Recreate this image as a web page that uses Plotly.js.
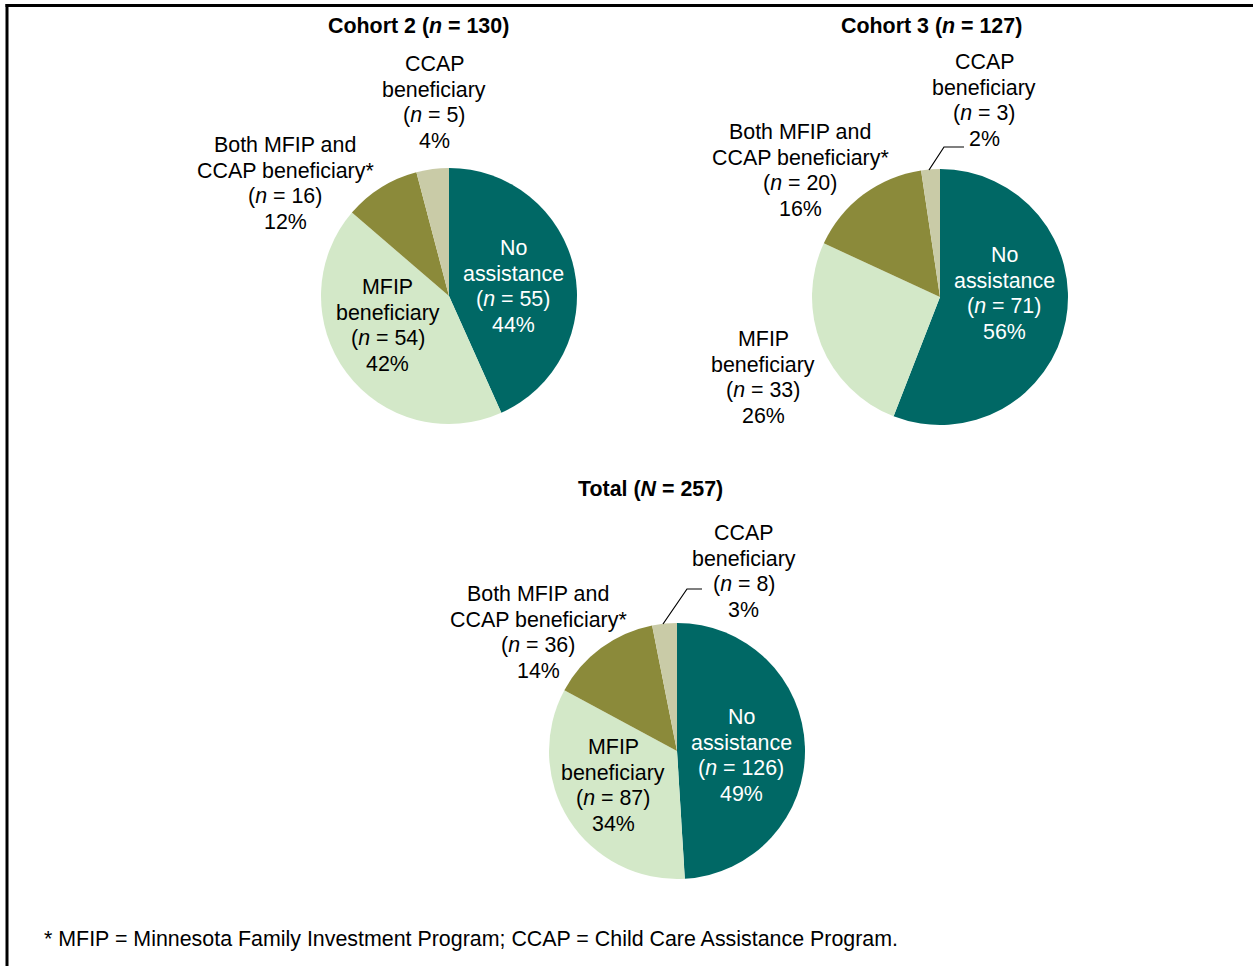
<!DOCTYPE html>
<html>
<head>
<meta charset="utf-8">
<script src="https://cdn.plot.ly/plotly-3.0.1.min.js"></script>
<style>html,body{margin:0;padding:0;background:#fff;}#chart{width:1253px;height:966px;}</style>
</head>
<body>
<div id="chart"></div>
<script>
// ---- data ----
const categories = ["No assistance", "MFIP beneficiary", "Both MFIP and CCAP beneficiary*", "CCAP beneficiary"];
const panelTitles = ["Cohort 2 (<i>n</i> = 130)", "Cohort 3 (<i>n</i> = 127)", "Total (<i>N</i> = 257)"];
// counts shown in the labels
const cohort2Counts = [55, 54, 16, 5];
const cohort3Counts = [71, 33, 20, 3];
const totalCounts = [126, 87, 36, 8];
// percentages shown in the labels
const cohort2Pct = [44, 42, 12, 4];
const cohort3Pct = [56, 26, 16, 2];
const totalPct = [49, 34, 14, 3];
// slice sizes as drawn in the picture (Cohort 2 wedges, differ slightly from its labels)
const cohort2Slices = [43.3, 43.0, 9.6, 4.1];
const cohort3Slices = [71, 33, 20, 3];
const totalSlices = [126, 87, 36, 8];
const footnote = "* MFIP = Minnesota Family Investment Program; CCAP = Child Care Assistance Program.";

// ---- styles / layout ----
const colors = ["#006865", "#d3e8c8", "#8b8a3a", "#c9cba7"];
const W = 1253, H = 966;
const FONT = "Liberation Sans, Arial, sans-serif";
const FS = 21.4;
const LINE = 25.7;
const px = x => x / W;
const py = y => 1 - y / H;

// label line breaks per category
const catLines = [
  ["No", "assistance"],
  ["MFIP", "beneficiary"],
  ["Both MFIP and", "CCAP beneficiary*"],
  ["CCAP", "beneficiary"]
];

// positions: [centerX, firstLineY]
const panels = [
  {slices: cohort2Slices, counts: cohort2Counts, pct: cohort2Pct, title: panelTitles[0], cx: 449, cy: 296, r: 128,
   titlePos: [419, 26],
   labelPos: [[513, 248], [388, 287], [285, 145], [434, 64]]},
  {slices: cohort3Slices, counts: cohort3Counts, pct: cohort3Pct, title: panelTitles[1], cx: 940, cy: 297, r: 128,
   titlePos: [932, 26],
   labelPos: [[1004, 255], [763, 339], [800, 132], [984, 62]]},
  {slices: totalSlices, counts: totalCounts, pct: totalPct, title: panelTitles[2], cx: 677, cy: 751, r: 128,
   titlePos: [651, 489],
   labelPos: [[741, 717], [613, 747], [538, 594], [744, 533]]}
];

const traces = [];
const annotations = [];
function addText(text, x, y, color, anchor) {
  annotations.push({
    xref: "paper", yref: "paper", x: px(x), y: py(y),
    xanchor: anchor || "center", yanchor: "middle", showarrow: false,
    text: text, font: {family: FONT, size: FS, color: color || "#000"}
  });
}
panels.forEach((p, i) => {
  traces.push({
    type: "pie",
    values: p.slices,
    labels: categories,
    customdata: p.counts,
    sort: false,
    direction: "clockwise",
    rotation: 0,
    textinfo: "none",
    hovertemplate: "%{label}: n = %{customdata}<extra></extra>",
    marker: {colors: colors, line: {width: 0}},
    domain: {x: [px(p.cx - p.r), px(p.cx + p.r)], y: [py(p.cy + p.r), py(p.cy - p.r)]},
    showlegend: false
  });
  addText("<b>" + p.title + "</b>", p.titlePos[0], p.titlePos[1]);
  categories.forEach((c, k) => {
    const lines = catLines[k].concat(["(<i>n</i> = " + p.counts[k] + ")", p.pct[k] + "%"]);
    lines.forEach((ln, j) => {
      addText(ln, p.labelPos[k][0], p.labelPos[k][1] + j * LINE, k === 0 ? "#ffffff" : "#000000");
    });
  });
});

addText(footnote, 42, 939, "#000", "left");

const shapes = [
  {type: "line", xref: "paper", yref: "paper", x0: px(7), x1: px(7), y0: py(4), y1: 0, line: {color: "#000", width: 3}},
  {type: "line", xref: "paper", yref: "paper", x0: px(5.5), x1: 1, y0: py(5.5), y1: py(5.5), line: {color: "#000", width: 3}},
  // leader lines
  {type: "path", xref: "paper", yref: "paper",
   path: "M " + px(929) + "," + py(170) + " L " + px(944) + "," + py(147) + " L " + px(964) + "," + py(147),
   line: {color: "#000", width: 1.2}},
  {type: "path", xref: "paper", yref: "paper",
   path: "M " + px(663) + "," + py(624) + " L " + px(687) + "," + py(589) + " L " + px(702) + "," + py(589),
   line: {color: "#000", width: 1.2}}
];

const layout = {
  width: W, height: H,
  margin: {l: 0, r: 0, t: 0, b: 0},
  paper_bgcolor: "#fff",
  font: {family: FONT, size: FS, color: "#000"},
  annotations: annotations,
  shapes: shapes,
  showlegend: false
};

Plotly.newPlot("chart", traces, layout, {displayModeBar: false, staticPlot: true});
</script>
</body>
</html>
